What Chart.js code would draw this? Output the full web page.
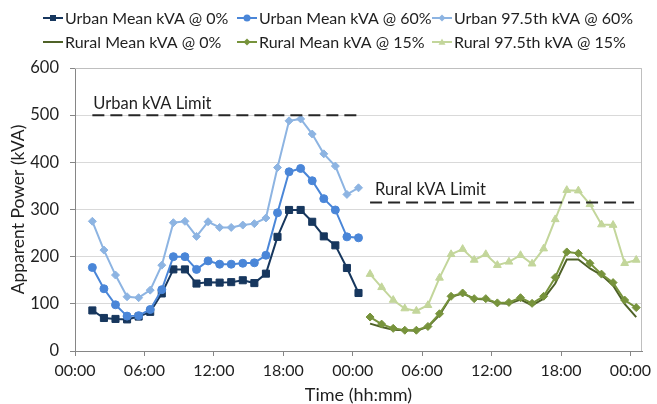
<!DOCTYPE html>
<html>
<head>
<meta charset="utf-8">
<script src="https://cdn.jsdelivr.net/npm/chart.js@4/dist/chart.umd.min.js"></script>
<style>
  html, body { margin: 0; padding: 0; background: #fff; }
</style>
</head>
<body>
<canvas id="chart" width="657" height="404"></canvas>
<script>
// hour positions of each point (urban = first day, rural = second day)
var urbanHours = [1.5, 2.5, 3.5, 4.5, 5.5, 6.5, 7.5, 8.5, 9.5, 10.5, 11.5, 12.5,
                  13.5, 14.5, 15.5, 16.5, 17.5, 18.5, 19.5, 20.5, 21.5, 22.5, 23.5, 24.5];
var ruralHours = [25.5, 26.5, 27.5, 28.5, 29.5, 30.5, 31.5, 32.5, 33.5, 34.5, 35.5, 36.5,
                  37.5, 38.5, 39.5, 40.5, 41.5, 42.5, 43.5, 44.5, 45.5, 46.5, 47.5, 48.5];

var urbanMean0  = [86, 70, 68, 67, 73, 83, 122, 173, 173, 143, 146, 145, 146, 150, 144, 164, 242, 299, 299, 274, 243, 224, 176, 123];
var urbanMean60 = [177, 132, 98, 74, 75, 88, 130, 200, 200, 173, 191, 184, 184, 186, 187, 203, 293, 380, 387, 361, 323, 299, 242, 240];
var urban975    = [275, 214, 161, 115, 113, 129, 182, 272, 275, 243, 274, 262, 262, 267, 270, 282, 389, 488, 492, 460, 418, 392, 332, 346];
var ruralMean0  = [58, 51, 45, 44, 43, 51, 76, 115, 122, 111, 109, 101, 100, 109, 97, 111, 143, 194, 194, 175, 161, 139, 100, 72];
var ruralMean15 = [72, 57, 48, 44, 44, 52, 79, 116, 123, 111, 111, 102, 103, 113, 101, 116, 156, 210, 207, 186, 163, 145, 108, 92];
var rural975    = [163, 135, 108, 90, 85, 97, 155, 205, 216, 193, 205, 182, 189, 203, 185, 217, 279, 341, 340, 311, 268, 267, 186, 193];

var limitNames  = ["Urban kVA Limit", "Rural kVA Limit"];
var limitValues = [500, 315];

var tickHours  = [0, 6, 12, 18, 24, 30, 36, 42, 48];
var tickLabels = ["00:00", "06:00", "12:00", "18:00", "00:00", "06:00", "12:00", "18:00", "00:00"];

var FONT = "Lato, 'Open Sans', sans-serif";
var TEXT = "#1f1f1f";

function pts(hours, vals) {
  var out = [];
  for (var i = 0; i < vals.length; i++) out.push({ x: hours[i], y: vals[i] });
  return out;
}

function series(label, hours, vals, color, style, radius, order) {
  return {
    label: label, data: pts(hours, vals),
    borderColor: color, backgroundColor: color, borderWidth: 2,
    pointStyle: style, pointRadius: radius, pointHoverRadius: radius,
    pointBorderWidth: 1, tension: 0, order: order
  };
}

function limitLine(hours, value) {
  return {
    label: "", isLimit: true,
    data: [{ x: hours[0], y: value }, { x: hours[hours.length - 1], y: value }],
    borderColor: "#262626", borderWidth: 2, borderDash: [12, 6],
    pointRadius: 0, order: 0
  };
}

var datasets = [
  series("Urban Mean kVA @ 0%", urbanHours, urbanMean0, "#17375E", "rect", 5, 6),
  series("Urban Mean kVA @ 60%", urbanHours, urbanMean60, "#4A86D8", "circle", 4, 5),
  series("Urban 97.5th kVA @ 60%", urbanHours, urban975, "#8DB4E2", "rectRot", 4, 4),
  series("Rural Mean kVA @ 0%", ruralHours, ruralMean0, "#4F6228", false, 0, 3),
  series("Rural Mean kVA @ 15%", ruralHours, ruralMean15, "#77933C", "rectRot", 4, 2),
  series("Rural 97.5th kVA @ 15%", ruralHours, rural975, "#C3D69B", "triangle", 4.5, 1),
  limitLine(urbanHours, limitValues[0]),
  limitLine(ruralHours, limitValues[1])
];

function marker(ctx, style, x, y, r, color) {
  ctx.fillStyle = color;
  ctx.beginPath();
  if (style === "rect") {
    ctx.rect(x - r, y - r, 2 * r, 2 * r);
  } else if (style === "circle") {
    ctx.arc(x, y, r, 0, Math.PI * 2);
  } else if (style === "rectRot") {
    ctx.moveTo(x, y - r); ctx.lineTo(x + r, y); ctx.lineTo(x, y + r); ctx.lineTo(x - r, y);
  } else if (style === "triangle") {
    ctx.moveTo(x, y - r); ctx.lineTo(x + r, y + r * 0.8); ctx.lineTo(x - r, y + r * 0.8);
  } else {
    return;
  }
  ctx.closePath();
  ctx.fill();
}

var extras = {
  id: "extras",
  beforeDatasetsDraw: function (chart) {
    var a = chart.chartArea, ctx = chart.ctx;
    ctx.save();
    ctx.strokeStyle = "#BFBFBF";
    ctx.lineWidth = 1;
    ctx.beginPath();
    ctx.moveTo(a.left, a.top + 0.5); ctx.lineTo(a.right - 0.5, a.top + 0.5); ctx.lineTo(a.right - 0.5, a.bottom);
    ctx.stroke();
    ctx.restore();
  },
  afterDraw: function (chart) {
    var ctx = chart.ctx, xs = chart.scales.x, ys = chart.scales.y;
    ctx.save();
    // limit labels
    ctx.font = "16.5px " + FONT;
    ctx.fillStyle = TEXT;
    ctx.textBaseline = "alphabetic";
    ctx.textAlign = "left";
    ctx.fillText(limitNames[0], xs.getPixelForValue(urbanHours[0]) + 1, ys.getPixelForValue(limitValues[0]) - 6);
    ctx.fillText(limitNames[1], xs.getPixelForValue(ruralHours[0]) + 5, ys.getPixelForValue(limitValues[1]) - 7);
    // legend: 2 rows x 3 columns
    var colX = [43, 237, 432], rowY = [18, 42];
    ctx.font = "16px " + FONT;
    ctx.textBaseline = "middle";
    for (var i = 0; i < 6; i++) {
      var ds = chart.data.datasets[i];
      var x = colX[i % 3], y = rowY[Math.floor(i / 3)];
      ctx.strokeStyle = ds.borderColor;
      ctx.lineWidth = 2;
      ctx.beginPath(); ctx.moveTo(x, y); ctx.lineTo(x + 20, y); ctx.stroke();
      marker(ctx, ds.pointStyle, x + 10, y, ds.pointStyle === "rect" ? 3 : 3.5, ds.borderColor);
      ctx.fillStyle = TEXT;
      ctx.fillText(ds.label, x + 22, y + 1);
    }
    ctx.restore();
  }
};

new Chart(document.getElementById("chart"), {
  type: "line",
  data: { datasets: datasets },
  plugins: [extras],
  options: {
    responsive: false,
    animation: false,
    layout: { padding: { top: 68, right: 15, left: 0, bottom: 0 } },
    plugins: { legend: { display: false }, tooltip: { enabled: false } },
    scales: {
      x: {
        type: "linear", min: 0, max: 49,
        afterBuildTicks: function (s) { s.ticks = tickHours.map(function (h) { return { value: h }; }); },
        afterFit: function (s) { s.height = 53; },
        ticks: {
          autoSkip: false, maxRotation: 0, padding: 5, color: TEXT,
          font: { family: FONT, size: 16 },
          callback: function (v) { var i = tickHours.indexOf(v); return i >= 0 ? tickLabels[i] : ""; }
        },
        grid: { drawOnChartArea: false, drawTicks: true, tickLength: 5, color: "#868686" },
        border: { color: "#868686" },
        title: { display: true, text: "Time (hh:mm)", color: TEXT, font: { family: FONT, size: 18 }, padding: { top: 0, bottom: -2 } }
      },
      y: {
        min: 0, max: 600,
        afterFit: function (s) { s.width = 75; },
        ticks: { stepSize: 100, padding: 11, color: TEXT, font: { family: FONT, size: 16.5 } },
        grid: { color: "#D9D9D9", tickLength: 5, tickColor: "#868686" },
        border: { color: "#868686" },
        title: { display: true, text: "Apparent Power (kVA)", color: TEXT, font: { family: FONT, size: 17.5 }, padding: { top: 8, bottom: 0 } }
      }
    }
  }
});
</script>
</body>
</html>
